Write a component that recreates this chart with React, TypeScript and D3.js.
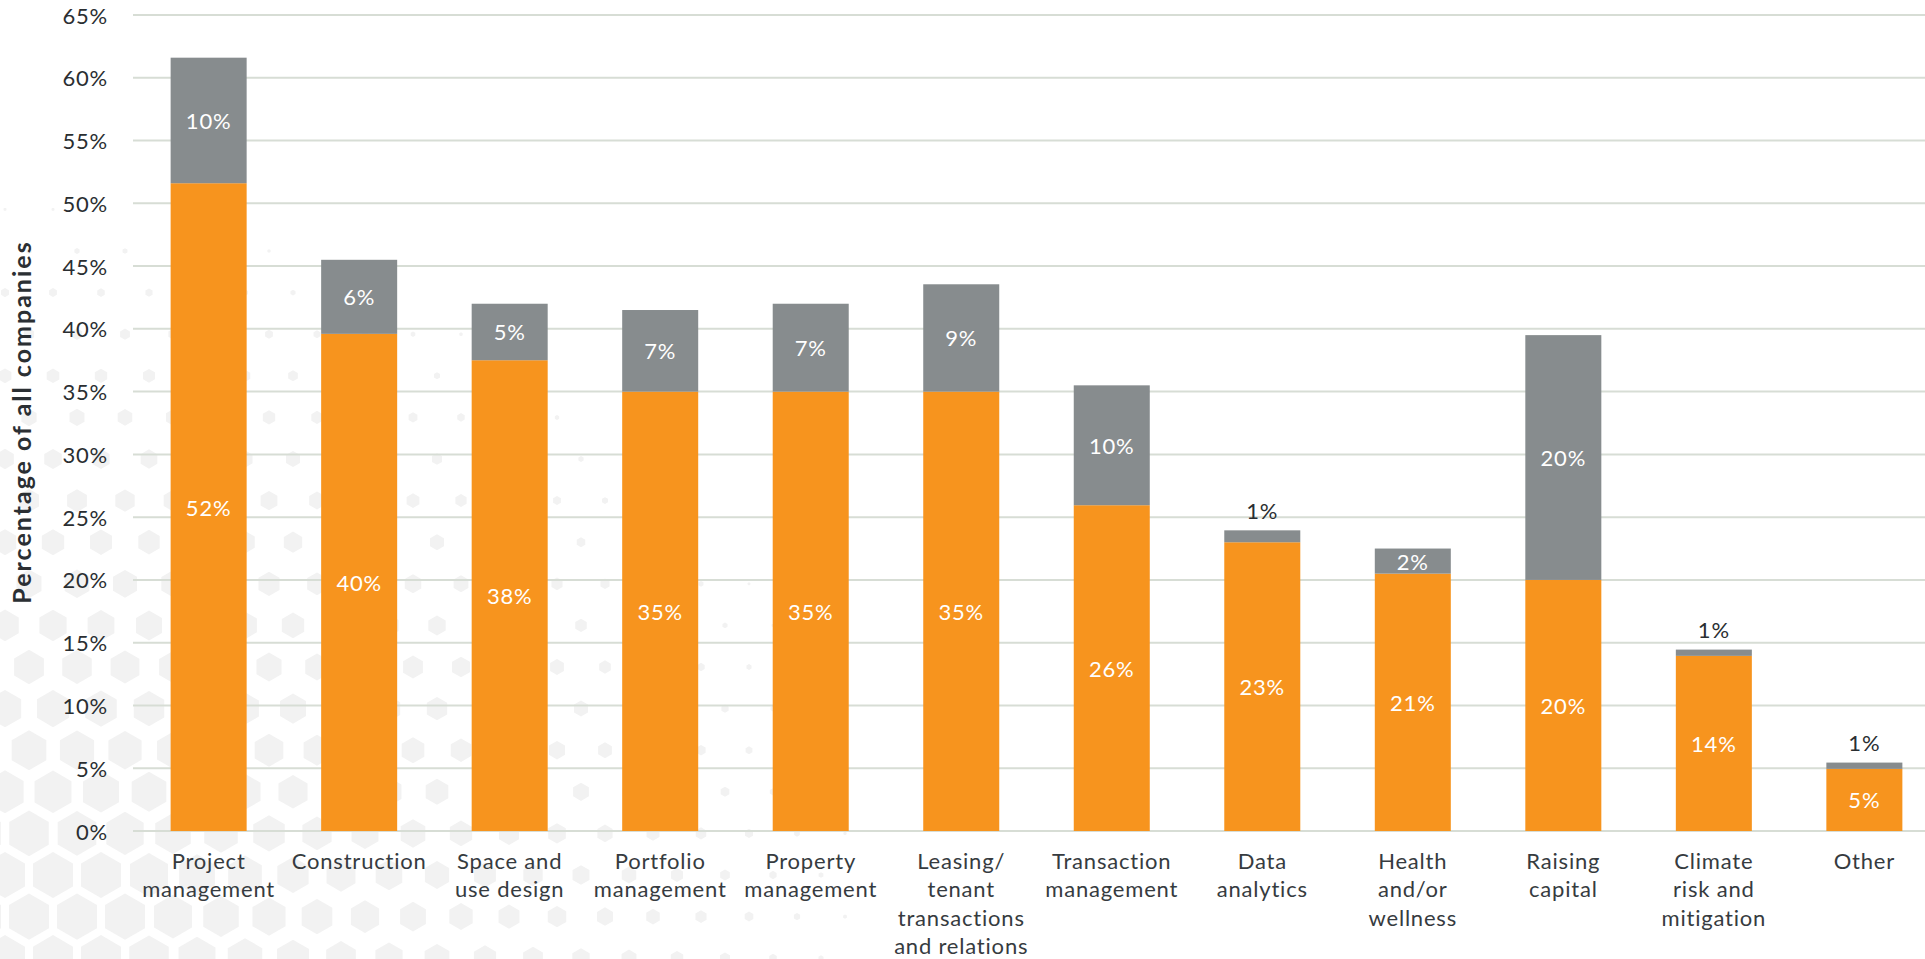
import React, { useMemo } from "react";
import * as d3 from "d3";

// ---- data ----
const categories = [
  "Project\nmanagement",
  "Construction",
  "Space and\nuse design",
  "Portfolio\nmanagement",
  "Property\nmanagement",
  "Leasing/\ntenant\ntransactions\nand relations",
  "Transaction\nmanagement",
  "Data\nanalytics",
  "Health\nand/or\nwellness",
  "Raising\ncapital",
  "Climate\nrisk and\nmitigation",
  "Other",
];
const primaryValues = [51.6, 39.6, 37.5, 35.0, 35.0, 35.0, 25.95, 23.0, 20.5, 20.0, 13.95, 4.95];
const secondaryValues = [10.0, 5.9, 4.5, 6.5, 7.0, 8.55, 9.55, 0.95, 2.0, 19.5, 0.5, 0.5];
const primaryLabels = ["52%", "40%", "38%", "35%", "35%", "35%", "26%", "23%", "21%", "20%", "14%", "5%"];
const secondaryLabels = ["10%", "6%", "5%", "7%", "7%", "9%", "10%", "1%", "2%", "20%", "1%", "1%"];
const yTickValues = [0, 5, 10, 15, 20, 25, 30, 35, 40, 45, 50, 55, 60, 65];
const yAxisTitle = "Percentage of all companies";

const W = 1925;
const H = 959;
const ORANGE = "#F7941E";
const GRAY = "#878C8E";
const FONT = "Lato, 'Open Sans', sans-serif";

export default function App() {
  const x = d3.scaleBand<string>().domain(categories).range([133, 1940]).paddingInner(0.495).paddingOuter(0.25);
  const y = d3.scaleLinear().domain([0, 65]).range([831, 15]);

  const rows = categories.map((c, i) => ({ cat: c, primary: primaryValues[i], secondary: secondaryValues[i] }));
  const series = d3.stack<any>().keys(["primary", "secondary"])(rows);

  const hexes = useMemo(() => {
    const out: { cx: number; cy: number; r: number }[] = [];
    const rowH = 41.6;
    const colW = 48;
    for (let j = -14; j <= 8; j++) {
      const cy = 667 + j * rowH;
      const off = Math.abs(j) % 2 === 0 ? 29 : 5;
      for (let k = -1; k < 25; k++) {
        const cx = off + k * colW;
        const d = Math.sqrt((cx / 1.15) ** 2 + (959 - cy) ** 2);
        const s = Math.max(0, Math.min(1, (800 - d) / 680));
        if (s < 0.07) continue;
        out.push({ cx, cy, r: 23.1 * s });
      }
    }
    return out;
  }, []);

  const hexPath = (cx: number, cy: number, r: number) => {
    const pts = d3.range(6).map((i) => {
      const a = (Math.PI / 3) * i - Math.PI / 2;
      return [cx + r * Math.cos(a), cy + r * Math.sin(a)];
    });
    return "M" + pts.map((p) => p.join(",")).join("L") + "Z";
  };

  return (
    <div style={{ position: "absolute", left: 0, top: 0, width: W, height: H, overflow: "hidden", background: "#fff" }}>
      <svg width={W} height={H} style={{ display: "block", fontFamily: FONT }}>
        <rect width={W} height={H} fill="#ffffff" />
        <g>
          {hexes.map((h, i) => (
            <path key={i} d={hexPath(h.cx, h.cy, h.r)} fill="#f2f2f2" />
          ))}
        </g>
        {/* gridlines */}
        <g>
          {yTickValues.map((t) => (
            <line key={t} x1={133} x2={W} y1={y(t)} y2={y(t)} stroke="#d7ddd5" strokeWidth={2} />
          ))}
        </g>
        {/* y tick labels */}
        <g>
          {yTickValues.map((t) => (
            <text key={t} x={108} y={y(t)} textAnchor="end" dominantBaseline="central" fontSize={22} fill="#2a2e31" letterSpacing={0.8}>
              {t + "%"}
            </text>
          ))}
        </g>
        {/* y axis title */}
        <text
          transform={`translate(31,${422}) rotate(-90)`}
          textAnchor="middle"
          fontSize={25}
          fontWeight={700}
          fill="#2b2f33"
          letterSpacing={2}
        >
          {yAxisTitle}
        </text>
        {/* bars */}
        {series.map((s, si) => (
          <g key={s.key} fill={si === 0 ? ORANGE : GRAY}>
            {s.map((d, i) => (
              <rect key={i} x={x(categories[i])} width={x.bandwidth()} y={y(d[1])} height={y(d[0]) - y(d[1])} />
            ))}
          </g>
        ))}
        {/* bar labels */}
        {series[0].map((d, i) => (
          <text
            key={"p" + i}
            x={(x(categories[i]) as number) + x.bandwidth() / 2}
            y={(y(d[0]) + y(d[1])) / 2}
            textAnchor="middle"
            dominantBaseline="central"
            fontSize={22}
            fontWeight={400}
            fill="#ffffff"
            letterSpacing={0.8}
          >
            {primaryLabels[i]}
          </text>
        ))}
        {series[1].map((d, i) => {
          const segH = y(d[0]) - y(d[1]);
          const inside = segH > 20;
          return (
            <text
              key={"s" + i}
              x={(x(categories[i]) as number) + x.bandwidth() / 2}
              y={inside ? (y(d[0]) + y(d[1])) / 2 : y(d[1]) - 20}
              textAnchor="middle"
              dominantBaseline="central"
              fontSize={22}
              fontWeight={400}
              fill={inside ? "#ffffff" : "#2a2e31"}
              letterSpacing={0.8}
            >
              {secondaryLabels[i]}
            </text>
          );
        })}
        {/* category labels */}
        {categories.map((c, i) => (
          <text
            key={c}
            x={(x(c) as number) + x.bandwidth() / 2}
            y={869}
            textAnchor="middle"
            fontSize={22}
            fill="#363b40"
            letterSpacing={0.8}
          >
            {c.split("\n").map((line, li) => (
              <tspan key={li} x={(x(c) as number) + x.bandwidth() / 2} dy={li === 0 ? 0 : 28.3}>
                {line}
              </tspan>
            ))}
          </text>
        ))}
      </svg>
    </div>
  );
}
